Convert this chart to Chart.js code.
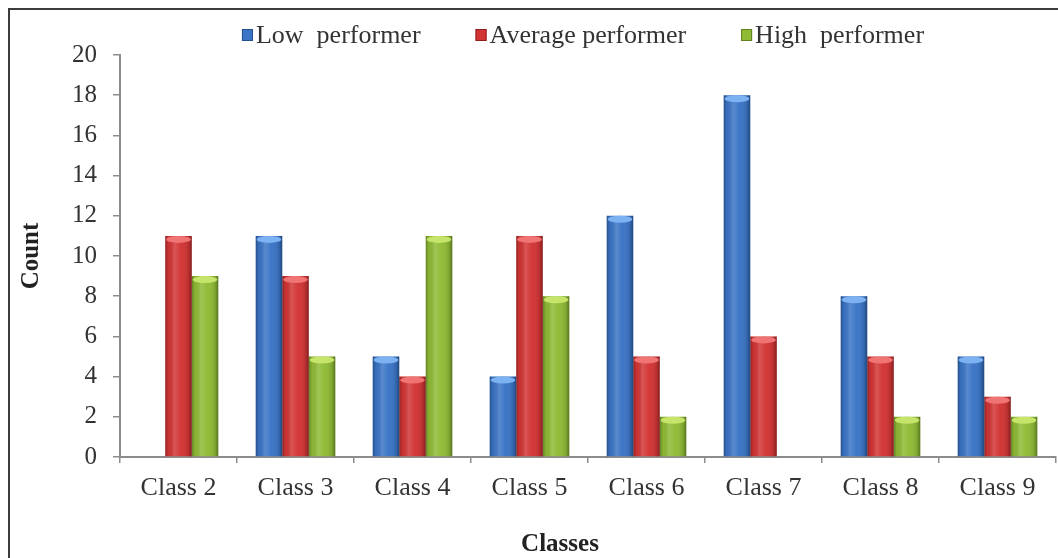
<!DOCTYPE html>
<html>
<head>
<meta charset="utf-8">
<script src="https://cdn.jsdelivr.net/npm/chart.js@4.4.1/dist/chart.umd.min.js"></script>
<style>
  html, body { margin: 0; padding: 0; background: #ffffff; }
  #wrap { width: 1058px; height: 558px; position: relative; }
</style>
</head>
<body>
<div id="wrap"><canvas id="chart" width="1058" height="558"></canvas></div>
<script>
// Pupil counts per class and performance band
const classes = ['Class 2', 'Class 3', 'Class 4', 'Class 5', 'Class 6', 'Class 7', 'Class 8', 'Class 9'];
const lowPerformer     = [0, 11, 5, 4, 12, 18, 8, 5];
const averagePerformer = [11, 9, 4, 11, 5, 6, 5, 3];
const highPerformer    = [9, 5, 11, 8, 2, 0, 2, 2];
const countTicks = [0, 2, 4, 6, 8, 10, 12, 14, 16, 18, 20];

const seriesNames  = ['Low  performer', 'Average performer', 'High  performer'];
const seriesColors = ['#3a74c6', '#d23434', '#8fbb35'];
const seriesEdges  = ['#24508f', '#921c1c', '#5d8020'];
const seriesCaps   = ['#7cb2f2', '#f07474', '#c6e46a'];

const SERIF = "'Liberation Serif', 'Times New Roman', serif";
const AXIS_GREY = '#8c8c8c';

// White page with the dark frame on the top and left edges
const framePlugin = {
  id: 'frame',
  beforeDraw(chart) {
    const { ctx, width, height } = chart;
    ctx.save();
    ctx.fillStyle = '#ffffff';
    ctx.fillRect(0, 0, width, height);
    ctx.strokeStyle = '#3c3c3c';
    ctx.lineWidth = 2;
    ctx.beginPath();
    ctx.moveTo(9, height);
    ctx.lineTo(9, 9);
    ctx.lineTo(width, 9);
    ctx.stroke();
    ctx.restore();
  }
};

// Cylinder shading over each bar: side shadows, a soft highlight and a light top cap
const cylinderPlugin = {
  id: 'cylinder',
  afterDatasetsDraw(chart) {
    const ctx = chart.ctx;
    chart.data.datasets.forEach((ds, di) => {
      const meta = chart.getDatasetMeta(di);
      meta.data.forEach((bar) => {
        const { x, y, base, width } = bar.getProps(['x', 'y', 'base', 'width'], true);
        const h = base - y;
        if (h <= 0.5) return;
        const l = x - width / 2;
        const g = ctx.createLinearGradient(l, 0, l + width, 0);
        g.addColorStop(0, 'rgba(0,0,0,0.30)');
        g.addColorStop(0.12, 'rgba(0,0,0,0.04)');
        g.addColorStop(0.35, 'rgba(255,255,255,0.16)');
        g.addColorStop(0.6, 'rgba(255,255,255,0.02)');
        g.addColorStop(0.88, 'rgba(0,0,0,0.12)');
        g.addColorStop(1, 'rgba(0,0,0,0.38)');
        ctx.save();
        ctx.fillStyle = g;
        ctx.fillRect(l, y, width, h);
        const ry = Math.min(3.5, h / 2);
        ctx.beginPath();
        ctx.ellipse(x, y + ry, width / 2 - 1, ry, 0, 0, Math.PI * 2);
        ctx.fillStyle = seriesCaps[di];
        ctx.fill();
        ctx.restore();
      });
    });
  }
};

// Legend row along the top and the x-axis caption
const labelsPlugin = {
  id: 'labels',
  afterDraw(chart) {
    const { ctx, chartArea } = chart;
    ctx.save();
    ctx.font = '26px ' + SERIF;
    ctx.textBaseline = 'middle';
    ctx.textAlign = 'left';
    const box = 11, boxGap = 3, itemGap = 55;
    const widths = seriesNames.map(t => ctx.measureText(t).width);
    const total = widths.reduce((a, w) => a + box + boxGap + w, 0) + itemGap * (seriesNames.length - 1);
    let x = (chartArea.left + chartArea.right) / 2 - 5 - total / 2;
    const cy = 35;
    seriesNames.forEach((name, i) => {
      ctx.fillStyle = seriesColors[i];
      ctx.fillRect(x, cy - 6, box, 12);
      ctx.strokeStyle = seriesEdges[i];
      ctx.lineWidth = 1;
      ctx.strokeRect(x + 0.5, cy - 5.5, box - 1, 11);
      ctx.fillStyle = '#333333';
      ctx.fillText(name, x + box + boxGap, cy + 1);
      x += box + boxGap + widths[i] + itemGap;
    });

    ctx.font = 'bold 25px ' + SERIF;
    ctx.textAlign = 'center';
    ctx.textBaseline = 'alphabetic';
    ctx.fillStyle = '#222222';
    ctx.fillText('Classes', (chartArea.left + chartArea.right) / 2 - 28, 551);
    ctx.restore();
  }
};

const makeSet = (i, values) => ({
  label: seriesNames[i],
  data: values,
  backgroundColor: seriesColors[i],
  borderWidth: 0,
  barPercentage: 1.0,
  categoryPercentage: 0.68
});

new Chart(document.getElementById('chart'), {
  type: 'bar',
  data: {
    labels: classes,
    datasets: [
      makeSet(0, lowPerformer),
      makeSet(1, averagePerformer),
      makeSet(2, highPerformer)
    ]
  },
  options: {
    responsive: false,
    animation: false,
    devicePixelRatio: 1,
    layout: { padding: { top: 55, right: 2, left: 0, bottom: 0 } },
    plugins: {
      legend: { display: false },
      tooltip: { enabled: false }
    },
    scales: {
      x: {
        grid: {
          display: true,
          drawOnChartArea: false,
          drawTicks: true,
          tickLength: 6,
          color: AXIS_GREY,
          lineWidth: 1.5,
          offset: true
        },
        border: { display: true, color: AXIS_GREY, width: 2 },
        ticks: {
          font: { family: SERIF, size: 26 },
          color: '#333333',
          padding: 10,
          maxRotation: 0
        },
        afterFit(scale) { scale.height = 101; }
      },
      y: {
        min: 0,
        max: 20,
        afterBuildTicks(axis) { axis.ticks = countTicks.map(v => ({ value: v })); },
        grid: {
          display: true,
          drawOnChartArea: false,
          drawTicks: true,
          tickLength: 7,
          color: AXIS_GREY,
          lineWidth: 1.5
        },
        border: { display: true, color: AXIS_GREY, width: 2 },
        ticks: {
          font: { family: SERIF, size: 25 },
          color: '#333333',
          padding: 16
        },
        title: {
          display: true,
          text: 'Count',
          font: { family: SERIF, size: 25, weight: 'bold' },
          color: '#222222',
          padding: { top: 17, bottom: 0 }
        },
        afterFit(scale) { scale.width = 120; }
      }
    }
  },
  plugins: [framePlugin, cylinderPlugin, labelsPlugin]
});
</script>
</body>
</html>
